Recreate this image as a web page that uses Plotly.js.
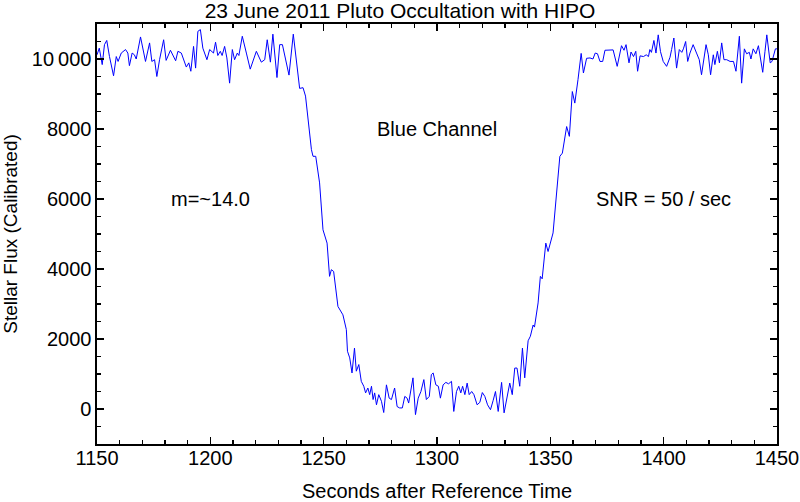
<!DOCTYPE html>
<html>
<head>
<meta charset="utf-8">
<script src="https://cdn.plot.ly/plotly-3.0.1.min.js"></script>
<style>
  html, body { margin: 0; padding: 0; background: #fff; }
  #chart { width: 800px; height: 502px; }
</style>
</head>
<body>
<div id="chart"></div>
<script>
// Blue channel light curve
const seconds = [
  1150.0, 1151.0, 1152.3, 1153.3, 1154.3, 1155.5, 1157.3, 1158.5, 1159.3, 1160.7,
  1162.6, 1163.6, 1164.3, 1165.5, 1166.5, 1167.3, 1169.2, 1171.4, 1173.2, 1174.2,
  1175.4, 1176.4, 1177.6, 1179.4, 1180.5, 1182.4, 1184.7, 1185.7, 1187.2, 1189.4,
  1190.5, 1191.4, 1192.6, 1193.5, 1194.5, 1195.6, 1196.7, 1198.5, 1199.7, 1201.4,
  1202.3, 1203.3, 1204.4, 1205.2, 1206.3, 1207.3, 1208.5, 1209.7, 1210.7, 1211.9,
  1212.6, 1214.1, 1215.9, 1217.6, 1220.3, 1222.5, 1224.0, 1225.1, 1226.5, 1227.6,
  1229.4, 1230.6, 1231.8, 1234.7, 1236.6, 1239.4, 1240.9, 1242.0, 1244.6, 1245.3,
  1246.5, 1248.2, 1249.7, 1251.5, 1252.6, 1253.4, 1254.4, 1256.3, 1258.5, 1260.0,
  1260.5, 1261.5, 1262.5, 1263.6, 1264.4, 1265.5, 1266.6, 1267.7, 1268.5, 1269.5,
  1270.3, 1271.1, 1271.8, 1272.5, 1273.3, 1274.3, 1275.5, 1276.5, 1277.7, 1278.9,
  1279.9, 1281.3, 1282.4, 1283.5, 1284.7, 1285.8, 1286.8, 1287.5, 1289.4, 1290.5,
  1291.7, 1292.9, 1294.2, 1295.3, 1296.6, 1297.5, 1298.3, 1299.5, 1300.6, 1301.5,
  1302.7, 1303.9, 1305.1, 1306.4, 1307.4, 1308.6, 1309.6, 1310.5, 1311.3, 1312.3,
  1313.3, 1314.2, 1315.3, 1316.3, 1317.7, 1318.9, 1320.0, 1321.1, 1322.3, 1323.6,
  1324.8, 1325.8, 1327.0, 1328.5, 1329.6, 1331.0, 1332.1, 1333.2, 1334.3, 1335.3,
  1336.5, 1337.7, 1338.7, 1340.2, 1341.2, 1342.4, 1343.0, 1344.6, 1345.6, 1346.4,
  1348.0, 1349.0, 1351.2, 1354.2, 1355.3, 1357.2, 1358.4, 1359.7, 1360.8, 1362.2,
  1363.6, 1364.6, 1366.0, 1367.5, 1368.8, 1369.8, 1370.8, 1371.9, 1373.1, 1374.1,
  1376.3, 1377.7, 1379.5, 1381.4, 1382.5, 1383.4, 1384.7, 1385.6, 1386.7, 1387.7,
  1388.5, 1389.6, 1391.1, 1392.3, 1393.3, 1393.9, 1394.6, 1395.7, 1396.6, 1397.6,
  1398.6, 1399.8, 1401.3, 1402.8, 1403.5, 1404.5, 1405.7, 1406.9, 1408.0, 1408.7,
  1409.7, 1410.6, 1411.6, 1413.0, 1414.5, 1415.7, 1416.7, 1417.7, 1418.7, 1419.7,
  1420.7, 1421.9, 1422.6, 1423.7, 1424.6, 1425.6, 1426.6, 1427.8, 1429.3, 1430.8,
  1431.9, 1433.4, 1434.4, 1435.6, 1436.6, 1437.8, 1438.5, 1439.5, 1440.7, 1441.8,
  1442.6, 1443.7, 1444.7, 1445.5, 1447.0, 1447.8, 1449.3, 1450.0
];

const flux = [
  10120, 10310, 9840, 10410, 10530, 10070, 9520, 10070, 9930, 10170,
  10270, 10170, 9810, 10170, 10120, 10000, 10630, 9930, 10460, 9930,
  9980, 9500, 9980, 10550, 9960, 10250, 9950, 10220, 10170, 9770,
  9890, 9650, 10360, 9740, 10790, 10840, 10310, 9980, 10270, 10170,
  10480, 10100, 10220, 10100, 10360, 10030, 9310, 10270, 9980, 10170,
  10100, 10650, 10170, 9710, 10220, 9910, 9980, 10550, 9910, 10710,
  9470, 10410, 10410, 9540, 10710, 9160, 9180, 8940, 7410, 7220,
  7220, 6460, 5120, 4740, 3790, 3980, 3930, 2930, 2690, 2270,
  1650, 1460, 1030, 1740, 1080, 1270, 790, 650, 460, 600,
  410, 650, 270, 460, 120, 410, 220, -100, 690, 310,
  270, 600, 70, 30, 30, 360, 310, 170, 890, -160,
  310, 500, 840, 270, 360, 980, 1030, 690, 650, 310,
  690, 760, 720, 790, -70, 500, 650, 460, 650, 410,
  740, 410, 500, 410, 120, 190, 470, 360, 120, -20,
  250, 500, -70, 760, -110, 360, 740, 410, 1170, 1170,
  650, 1740, 890, 1950, 2080, 2400, 2340, 3030, 3790, 3720,
  4740, 4500, 5030, 7220, 7310, 8070, 7790, 9070, 8740, 9410,
  10160, 9600, 10020, 10030, 10000, 10170, 10150, 9930, 9930, 10250,
  10260, 10260, 9790, 10380, 10250, 10410, 9890, 10200, 10070, 10220,
  9650, 10090, 10070, 10120, 10070, 10270, 10190, 10530, 10170, 10690,
  10210, 9930, 9790, 10050, 10270, 10600, 9740, 10270, 10190, 10290,
  10500, 9930, 10170, 10410, 10170, 9980, 9550, 9980, 10410, 10120,
  9550, 10120, 9840, 10220, 9890, 10460, 9980, 9980, 9930, 9930,
  9650, 10650, 9310, 10290, 10150, 10190, 10000, 10290, 10150, 10380,
  10070, 9620, 10220, 10690, 9890, 9930, 10290, 10290
];

const xTickVals = [1150, 1200, 1250, 1300, 1350, 1400, 1450];
const yTickVals = [0, 2000, 4000, 6000, 8000, 10000];
const yTickText = ['0', '2000', '4000', '6000', '8000', '10\u2009000'];

const notes = [
  { x: 1300, y: 8000, text: 'Blue Channel' },
  { x: 1200, y: 6000, text: 'm=~14.0' },
  { x: 1400, y: 6000, text: 'SNR = 50 / sec' }
];

const FONT = 'Liberation Sans, Arial, Helvetica, sans-serif';

const trace = {
  x: seconds,
  y: flux,
  type: 'scatter',
  mode: 'lines',
  line: { color: '#0000ff', width: 1 },
  hoverinfo: 'x+y'
};

const frameAxis = {
  showline: true,
  linecolor: '#000',
  linewidth: 1.6,
  mirror: 'allticks',
  ticks: 'inside',
  ticklen: 7,
  tickwidth: 1.2,
  tickcolor: '#000',
  showgrid: false,
  zeroline: false,
  tickfont: { family: FONT, size: 20, color: '#000' }
};

const layout = {
  width: 800,
  height: 502,
  margin: { l: 97, r: 23, t: 24, b: 58 },
  paper_bgcolor: '#fff',
  plot_bgcolor: '#fff',
  font: { family: FONT, color: '#000' },
  showlegend: false,
  title: {
    text: '23 June 2011 Pluto Occultation with HIPO',
    font: { family: FONT, size: 21, color: '#000' },
    x: 0.5,
    xanchor: 'center',
    y: 0.978,
    yanchor: 'middle'
  },
  xaxis: Object.assign({}, frameAxis, {
    range: [1150, 1450],
    tickvals: xTickVals,
    ticklabelstandoff: -5,
    minor: { dtick: 10, ticks: 'inside', ticklen: 4, tickwidth: 1.2, tickcolor: '#000' },
    title: { text: 'Seconds after Reference Time', font: { family: FONT, size: 20 }, standoff: 16 }
  }),
  yaxis: Object.assign({}, frameAxis, {
    range: [-1000, 11000],
    tickvals: yTickVals,
    ticktext: yTickText,
    minor: { dtick: 500, ticks: 'inside', ticklen: 4, tickwidth: 1.2, tickcolor: '#000' },
    title: { text: 'Stellar Flux (Calibrated)', font: { family: FONT, size: 19 }, standoff: 10 }
  }),
  annotations: notes.map(n => ({
    x: n.x,
    y: n.y,
    xref: 'x',
    yref: 'y',
    text: n.text,
    showarrow: false,
    font: { family: FONT, size: 20, color: '#000' }
  }))
};

Plotly.newPlot('chart', [trace], layout, { displayModeBar: false, staticPlot: true });
</script>
</body>
</html>
